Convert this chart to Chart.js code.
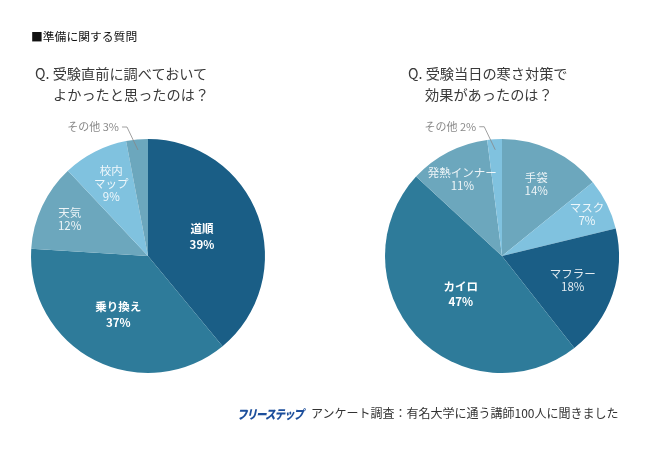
<!DOCTYPE html>
<html>
<head>
<meta charset="utf-8">
<script src="https://cdn.jsdelivr.net/npm/chart.js@4"></script>
<style>
  body { margin: 0; background: #fff; font-family: "Noto Sans CJK JP", sans-serif; }
  #wrap { position: relative; width: 650px; height: 449px; overflow: hidden; }
  .txt { position: absolute; white-space: nowrap; color: #3a3a3a; }
  canvas { position: absolute; top: 0; }
</style>
</head>
<body>
<div id="wrap">
  <canvas id="leftChart" width="325" height="449" style="left:0"></canvas>
  <canvas id="rightChart" width="325" height="449" style="left:325px"></canvas>

  <div class="txt" style="left:31px; top:27px; font-size:11.8px; color:#111;">■準備に関する質問</div>

  <div class="txt" style="left:35px; top:63px; font-size:14.2px;">Q. 受験直前に調べておいて</div>
  <div class="txt" style="left:53px; top:84px; font-size:14.2px;">よかったと思ったのは？</div>

  <div class="txt" style="left:408px; top:63px; font-size:14.2px;">Q. 受験当日の寒さ対策で</div>
  <div class="txt" style="left:425px; top:84px; font-size:14.2px;">効果があったのは？</div>

  <div class="txt" style="left:237px; top:404px; font-size:12.5px; color:#1d4f9c; font-weight:900; font-style:italic; letter-spacing:-1.2px; transform:scaleX(0.84); transform-origin:left center;">フリーステップ</div>
  <div class="txt" style="left:311px; top:404px; font-size:12px; color:#333;">アンケート調査：有名大学に通う講師100人に聞きました</div>
</div>

<script>
// Q1: 受験直前に調べておいてよかったもの
const prepCategories = ['道順', '乗り換え', '天気', '校内マップ', 'その他'];
const prepValues = [39, 37, 12, 9, 3];

// Q2: 寒さ対策で効果があったもの
const coldCategories = ['手袋', 'マスク', 'マフラー', 'カイロ', '発熱インナー', 'その他'];
const coldValues = [14, 7, 18, 47, 11, 2];

const DARK = '#1a5e86';
const MID = '#2e7b9a';
const GREY = '#6ca7bd';
const LIGHT = '#80c2df';

const fontFamily = '"Noto Sans CJK JP", sans-serif';

// draws the percentage labels inside the slices, and the small one outside with a leader line
const sliceLabels = {
    id: 'sliceLabels',
    afterDatasetsDraw(chart, args, opts) {
        const ctx = chart.ctx;
        const meta = chart.getDatasetMeta(0);
        const values = chart.data.datasets[0].data;
        meta.data.forEach((arc, i) => {
            const p = arc.getProps(['x', 'y', 'startAngle', 'endAngle', 'outerRadius'], true);
            const mid = (p.startAngle + p.endAngle) / 2;
            const name = chart.data.labels[i];
            const pct = values[i] + '%';
            ctx.save();
            if (i === opts.outside) {
                const r0 = p.outerRadius * 0.91;
                const ax = p.x + Math.cos(mid) * r0;
                const ay = p.y + Math.sin(mid) * r0;
                const ex = ax - 11, ey = ay - 23;
                ctx.strokeStyle = '#888';
                ctx.lineWidth = 0.8;
                ctx.beginPath();
                ctx.moveTo(ax, ay);
                ctx.lineTo(ex, ey);
                ctx.lineTo(ex - 5, ey);
                ctx.stroke();
                ctx.fillStyle = '#8a8a8a';
                ctx.font = '11px ' + fontFamily;
                ctx.textAlign = 'right';
                ctx.textBaseline = 'middle';
                ctx.fillText(name + ' ' + pct, ex - 8, ey);
                ctx.restore();
                return;
            }
            const f = opts.radius[i];
            const cx = p.x + Math.cos(mid) * p.outerRadius * f;
            const cy = p.y + Math.sin(mid) * p.outerRadius * f;
            const bold = opts.bold.includes(i);
            const lines = (opts.wrap[name] || [name]).concat([pct]);
            const gap = bold ? 15.5 : 13;
            ctx.font = (bold ? 'bold ' : '') + '11.5px ' + fontFamily;
            ctx.fillStyle = bold ? '#ffffff' : 'rgba(255,255,255,0.88)';
            ctx.textAlign = 'center';
            ctx.textBaseline = 'middle';
            const top = cy - gap * (lines.length - 1) / 2;
            lines.forEach((t, k) => ctx.fillText(t, cx, top + k * gap));
            ctx.restore();
        });
    }
};

function makePie(id, labels, values, colors, padding, labelOpts) {
    return new Chart(document.getElementById(id).getContext('2d'), {
        type: 'pie',
        data: {
            labels: labels,
            datasets: [{
                data: values,
                backgroundColor: colors,
                borderWidth: 0
            }]
        },
        options: {
            responsive: false,
            animation: false,
            layout: { padding: padding },
            plugins: {
                legend: { display: false },
                tooltip: { enabled: false },
                sliceLabels: labelOpts
            }
        },
        plugins: [sliceLabels]
    });
}

makePie('leftChart', prepCategories, prepValues,
    [DARK, MID, GREY, LIGHT, GREY],
    { left: 31, right: 60, top: 139, bottom: 76 },
    {
        radius: [0.49, 0.56, 0.74, 0.69],
        bold: [0, 1],
        wrap: { '校内マップ': ['校内', 'マップ'] },
        outside: 4
    });

makePie('rightChart', coldCategories, coldValues,
    [GREY, LIGHT, DARK, MID, GREY, LIGHT],
    { left: 60, right: 31, top: 139, bottom: 76 },
    {
        radius: [0.68, 0.81, 0.64, 0.48, 0.74],
        bold: [3],
        wrap: {},
        outside: 5
    });
</script>
</body>
</html>
